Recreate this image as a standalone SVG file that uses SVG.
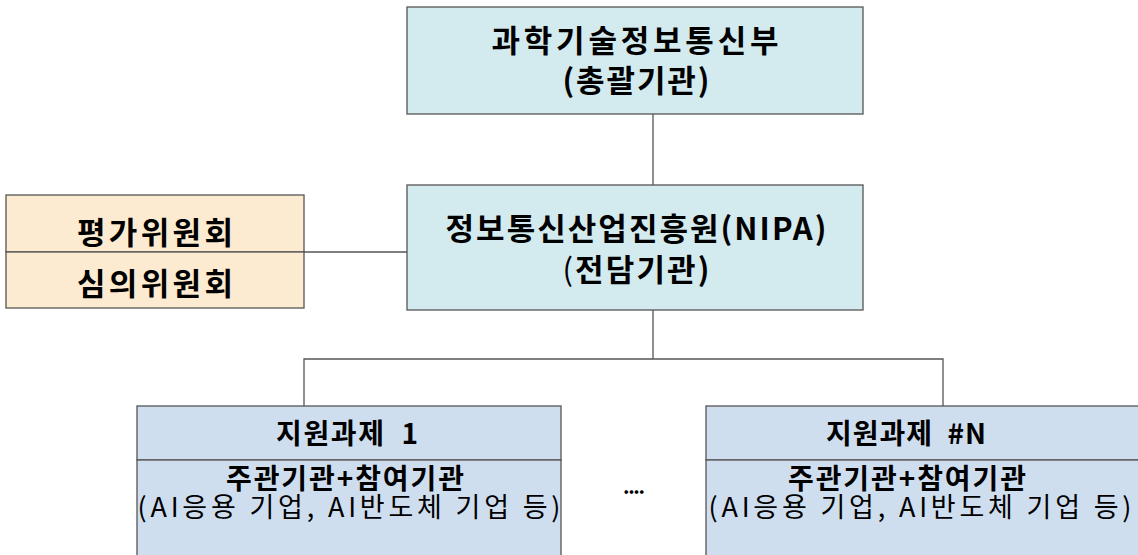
<svg xmlns="http://www.w3.org/2000/svg" width="1138" height="555" viewBox="0 0 1138 555">
<style>
text{font-family:"Noto Sans CJK KR","Noto Sans",sans-serif;fill:#000;text-anchor:middle}
.b{font-weight:bold}
.n{font-weight:normal}
.box{stroke:#555;stroke-width:1.3}
.cyan{fill:#d3eaee}
.tan{fill:#fcebd1}
.blue{fill:#cfdeef}
.ln{stroke:#555;stroke-width:1.3;fill:none}
</style>
<rect width="1138" height="555" fill="#fff"/>
<g id="connectors">
<line class="ln" x1="653" y1="114" x2="653" y2="185"/>
<line class="ln" x1="304" y1="252" x2="407" y2="252"/>
<line class="ln" x1="653" y1="310" x2="653" y2="359"/>
<polyline class="ln" points="304,406 304,359 943,359 943,406"/>
</g>
<g id="msit">
<rect class="box cyan" x="407" y="7" width="456" height="107"/>
<text class="b" x="635" y="52" font-size="31" textLength="287" lengthAdjust="spacing">과학기술정보통신부</text>
<text class="b" x="636" y="92" font-size="31" textLength="147" lengthAdjust="spacing">(총괄기관)</text>
</g>
<g id="nipa">
<rect class="box cyan" x="407" y="185" width="456" height="125"/>
<text class="b" x="636" y="240" font-size="31" textLength="381" lengthAdjust="spacing">정보통신산업진흥원(NIPA)</text>
<text class="b" x="636" y="281" font-size="31" textLength="147" lengthAdjust="spacing"><tspan class="n">(</tspan>전담기관)</text>
</g>
<g id="committees">
<rect class="box tan" x="6" y="195" width="298" height="57"/>
<rect class="box tan" x="6" y="252" width="298" height="56"/>
<text class="b" x="155" y="244" font-size="31" textLength="156" lengthAdjust="spacing">평가위원회</text>
<text class="b" x="155" y="295" font-size="31" textLength="156" lengthAdjust="spacing">심의위원회</text>
</g>
<g id="task1">
<rect class="box blue" x="137" y="406" width="424" height="54"/>
<rect class="box blue" x="137" y="460" width="424" height="100"/>
<text class="b" x="347" y="444" font-size="28" textLength="142" lengthAdjust="spacing" xml:space="preserve">지원과제  1</text>
<text class="b" x="345" y="489" font-size="28" textLength="238" lengthAdjust="spacing">주관기관+참여기관</text>
<text class="n" x="349" y="517" font-size="27" textLength="423" lengthAdjust="spacing">(AI응용 기업, AI반도체 기업 등)</text>
</g>
<g id="dots">
<text class="b" x="634" y="494" font-size="20" textLength="22" lengthAdjust="spacing">....</text>
</g>
<g id="taskN">
<rect class="box blue" x="706" y="406" width="450" height="54"/>
<rect class="box blue" x="706" y="460" width="450" height="100"/>
<text class="b" x="906" y="444" font-size="28" textLength="160" lengthAdjust="spacing" xml:space="preserve">지원과제  #N</text>
<text class="b" x="907" y="489" font-size="28" textLength="238" lengthAdjust="spacing">주관기관+참여기관</text>
<text class="n" x="920" y="517" font-size="27" textLength="423" lengthAdjust="spacing">(AI응용 기업, AI반도체 기업 등)</text>
</g>
</svg>
